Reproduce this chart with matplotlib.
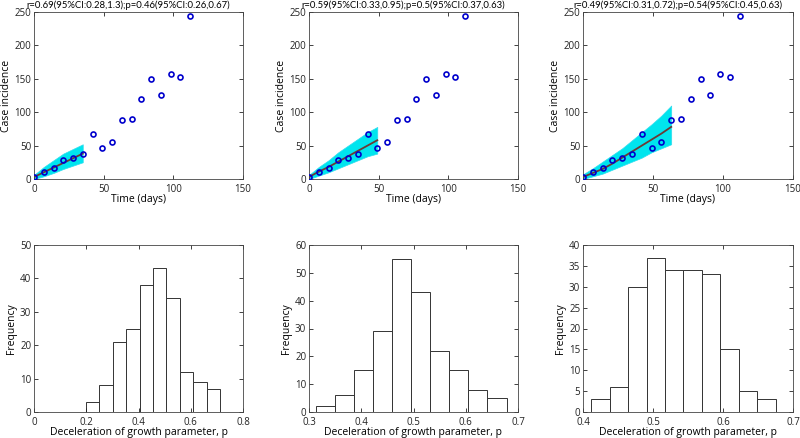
import matplotlib
matplotlib.use("Agg")
import matplotlib.pyplot as plt
import numpy as np

plt.rcParams['font.family'] = ['Open Sans', 'DejaVu Sans']

# Observed weekly incidence
days = [0, 7, 14, 21, 28, 35, 42, 49, 56, 63, 70, 77, 84, 91, 98, 105, 112]
cases = [3, 11, 16, 28, 32, 37, 67, 47, 55, 88, 90, 120, 150, 126, 157, 153, 244]

titles = ["r=0.69(95%CI:0.28,1.3);p=0.46(95%CI:0.26,0.67)",
          "r=0.59(95%CI:0.33,0.95);p=0.5(95%CI:0.37,0.63)",
          "r=0.49(95%CI:0.31,0.72);p=0.54(95%CI:0.45,0.63)"]

# Fitted curves and bootstrap ensemble envelope (weekly points)
fit1 = [3, 10, 17, 24, 31, 38]
lo1 = [0, 4, 9, 15, 20, 25]
hi1 = [6, 18, 28, 38, 45, 52]

fit2 = [3, 11, 18, 26, 34, 42, 50, 58]
lo2 = [0, 5, 10, 16, 22, 28, 34, 38]
hi2 = [6, 18, 28, 40, 50, 60, 70, 78]

fit3 = [3, 9, 15, 23, 32, 41, 50, 59, 68, 78]
lo3 = [0, 4, 8, 14, 20, 26, 32, 40, 46, 52]
hi3 = [7, 16, 26, 36, 46, 58, 70, 82, 95, 110]

fits = [fit1, fit2, fit3]
los = [lo1, lo2, lo3]
his = [hi1, hi2, hi3]

# Histograms of p
edges1 = np.linspace(0.199, 0.712, 11)
counts1 = [3, 8, 21, 25, 38, 43, 34, 12, 9, 7]
edges2 = np.linspace(0.314, 0.678, 11)
counts2 = [2, 6, 15, 29, 55, 43, 22, 15, 8, 5]
edges3 = np.linspace(0.412, 0.675, 11)
counts3 = [3, 6, 30, 37, 34, 34, 33, 15, 5, 3]

hists = [(edges1, counts1, (0, 0.8), np.arange(0, 0.81, 0.2), (0, 50), np.arange(0, 51, 10)),
         (edges2, counts2, (0.3, 0.7), np.arange(0.3, 0.71, 0.1), (0, 60), np.arange(0, 61, 10)),
         (edges3, counts3, (0.4, 0.7), np.arange(0.4, 0.71, 0.1), (0, 40), np.arange(0, 41, 5))]

fig = plt.figure(figsize=(8, 4.38), dpi=100)
W, H = 800, 438
cols = [(34, 243), (309, 518), (583, 793)]
top_row = (12, 179)
bot_row = (245, 412)

def style(ax):
    ax.tick_params(direction='in', top=True, right=True, labelsize=7, length=3,
                   width=0.6, colors='#222222')
    ax.tick_params(axis='x', pad=3.6)
    ax.tick_params(axis='y', pad=2)
    for s in ax.spines.values():
        s.set_linewidth(0.6)
        s.set_color('#444444')

tfmt = lambda v: ('%g' % v)

for i, (x0, x1) in enumerate(cols):
    ax = fig.add_axes([x0 / W, 1 - top_row[1] / H, (x1 - x0) / W, (top_row[1] - top_row[0]) / H])
    n = len(fits[i])
    t = days[:n]
    ax.fill_between(t, los[i], his[i], color='#00e5ee', lw=0.5, edgecolor='#33ddee', zorder=1)
    ax.plot(t, fits[i], color='#6b3a35', lw=1.3, zorder=2)
    ax.plot(days, cases, 'o', mfc='none', mec='#0000cc', ms=3.6, mew=1.2, zorder=3)
    ax.set_xlim(0, 150)
    ax.set_ylim(0, 250)
    ax.set_xticks([0, 50, 100, 150])
    ax.set_yticks(range(0, 251, 50))
    ax.set_xlabel('Time (days)', fontsize=7.5, labelpad=-0.6)
    ax.set_ylabel('Case incidence', fontsize=7.5, labelpad=2)
    ax.set_title(titles[i], fontsize=6.8, pad=3, x=0.45, family=['Lato', 'DejaVu Sans'])
    style(ax)

    edges, counts, xl, xt, yl, yt = hists[i]
    ax2 = fig.add_axes([x0 / W, 1 - bot_row[1] / H, (x1 - x0) / W, (bot_row[1] - bot_row[0]) / H])
    ax2.bar(edges[:-1], counts, width=np.diff(edges), align='edge', color='white',
            edgecolor='#333333', lw=0.7)
    ax2.set_xlim(*xl)
    ax2.set_ylim(*yl)
    ax2.set_xticks(xt)
    ax2.set_xticklabels([tfmt(round(v, 2)) for v in xt])
    ax2.set_yticks(yt)
    ax2.set_xlabel('Deceleration of growth parameter, p', fontsize=7.5, labelpad=-0.6)
    ax2.set_ylabel('Frequency', fontsize=7.5, labelpad=2)
    style(ax2)

fig.savefig('out.png', dpi=100)
